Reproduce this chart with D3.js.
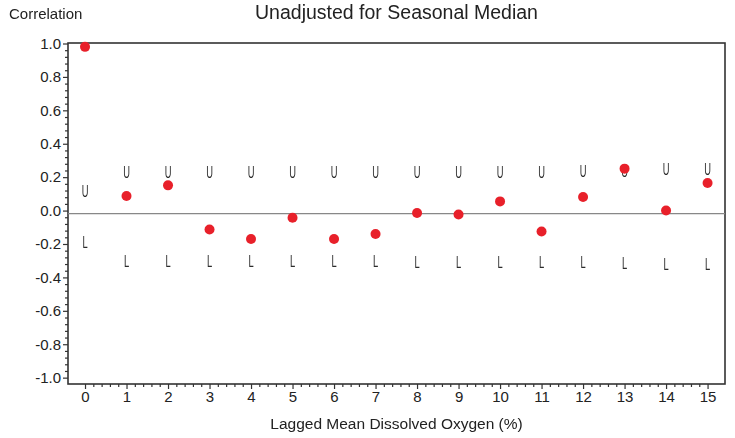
<!DOCTYPE html>
<html><head><meta charset="utf-8">
<script src="https://cdn.jsdelivr.net/npm/d3@7"></script>
<style>body{margin:0;background:#fff}svg{display:block}</style>
</head><body>
<script>
const lags = [0,1,2,3,4,5,6,7,8,9,10,11,12,13,14,15];
const correlation = [0.98,0.087,0.151,-0.113,-0.17,-0.043,-0.17,-0.14,-0.015,-0.023,0.055,-0.125,0.081,0.251,0.0,0.165];
const upperLimit = [0.12,0.23,0.23,0.23,0.23,0.23,0.23,0.23,0.23,0.23,0.23,0.23,0.235,0.24,0.25,0.25];
const lowerLimit = [-0.19,-0.30,-0.30,-0.30,-0.30,-0.30,-0.30,-0.30,-0.305,-0.305,-0.305,-0.305,-0.305,-0.31,-0.32,-0.32];
const yTicks = [1.0,0.8,0.6,0.4,0.2,0.0,-0.2,-0.4,-0.6,-0.8,-1.0];
const referenceLine = -0.018;
const title = "Unadjusted for Seasonal Median";
const xTitle = "Lagged Mean Dissolved Oxygen (%)";
const yTitle = "Correlation";

const W = 735, H = 438;
const m = {left: 68, top: 43, right: 10, bottom: 54};
const svg = d3.select("body").append("svg").attr("width", W).attr("height", H);
const font = "'Liberation Sans', Arial, sans-serif";

const x = d3.scaleLinear().domain([-0.41, 15.42]).range([m.left, W - m.right]);
const y = d3.scaleLinear().domain([-1.038, 1.003]).range([H - m.bottom, m.top]);

const axisColor = "#333";

// minor ticks
const yMinor = d3.range(-25, 26).map(i => i * 0.04).filter(v => Math.abs(Math.round(v * 5) - v * 5) > 1e-6);
const xMinor = d3.range(0, 76).map(i => i * 0.2).filter(v => Math.abs(Math.round(v) - v) > 1e-6);

const gy = svg.append("g").attr("transform", `translate(${m.left},0)`)
  .call(d3.axisLeft(y).tickValues(yTicks).tickFormat(d3.format(".1f")).tickSize(5).tickSizeOuter(0).tickPadding(2));
gy.select(".domain").remove();
gy.selectAll(".tick line").attr("stroke", axisColor).attr("stroke-width", 1.2);
gy.selectAll(".tick text").attr("font-family", font).attr("font-size", 15).attr("fill", "#222")
  .text(d => d3.format(".1f")(d).replace("−", "-"));
svg.append("g").attr("transform", `translate(${m.left},0)`)
  .call(d3.axisLeft(y).tickValues(yMinor).tickFormat("").tickSize(3).tickSizeOuter(0))
  .call(g => g.select(".domain").remove())
  .selectAll("line").attr("stroke", axisColor).attr("stroke-width", 1.2);

const gx = svg.append("g").attr("transform", `translate(0,${H - m.bottom})`)
  .call(d3.axisBottom(x).tickValues(lags).tickFormat(d3.format("d")).tickSize(5).tickSizeOuter(0).tickPadding(2));
gx.select(".domain").remove();
gx.selectAll(".tick line").attr("stroke", axisColor).attr("stroke-width", 1.2);
gx.selectAll(".tick text").attr("font-family", font).attr("font-size", 15).attr("fill", "#222");
svg.append("g").attr("transform", `translate(0,${H - m.bottom})`)
  .call(d3.axisBottom(x).tickValues(xMinor).tickFormat("").tickSize(3).tickSizeOuter(0))
  .call(g => g.select(".domain").remove())
  .selectAll("line").attr("stroke", axisColor).attr("stroke-width", 1.2);

// frame
svg.append("rect").attr("x", m.left).attr("y", m.top)
  .attr("width", W - m.right - m.left).attr("height", H - m.bottom - m.top)
  .attr("fill", "none").attr("stroke", axisColor).attr("stroke-width", 1.6);

// reference line
svg.append("line").attr("x1", m.left).attr("x2", W - m.right)
  .attr("y1", y(referenceLine)).attr("y2", y(referenceLine))
  .attr("stroke", "#888").attr("stroke-width", 1.3);

// U / L markers (group opacity forces grayscale antialiasing)
const markers = svg.append("g").attr("opacity", 0.99);
function marker(vals, ch) {
  markers.append("g").selectAll("text").data(lags).join("text")
    .attr("transform", (d, i) => `translate(${x(d)},${y(vals[i])}) scale(0.55,1)`)
    .attr("text-anchor", "middle").attr("dy", "0.36em")
    .attr("font-family", "'Liberation Sans', Arial, sans-serif").attr("font-size", 17)
    .attr("fill", "#2a2a2a").text(ch);
}
marker(upperLimit, "U");
marker(lowerLimit, "L");

// points
svg.append("g").selectAll("circle").data(lags).join("circle")
  .attr("cx", d => x(d)).attr("cy", (d, i) => y(correlation[i])).attr("r", 5)
  .attr("fill", "#e8202a");

// titles
svg.append("text").attr("x", (m.left + W - m.right) / 2).attr("y", 19).attr("text-anchor", "middle")
  .attr("font-family", font).attr("font-size", 19.5).attr("fill", "#222").text(title);
svg.append("text").attr("x", 9).attr("y", 19)
  .attr("font-family", font).attr("font-size", 15).attr("fill", "#222").text(yTitle);
svg.append("text").attr("x", (m.left + W - m.right) / 2).attr("y", 429).attr("text-anchor", "middle")
  .attr("font-family", font).attr("font-size", 15.5).attr("fill", "#222").text(xTitle);
</script>
</body></html>
